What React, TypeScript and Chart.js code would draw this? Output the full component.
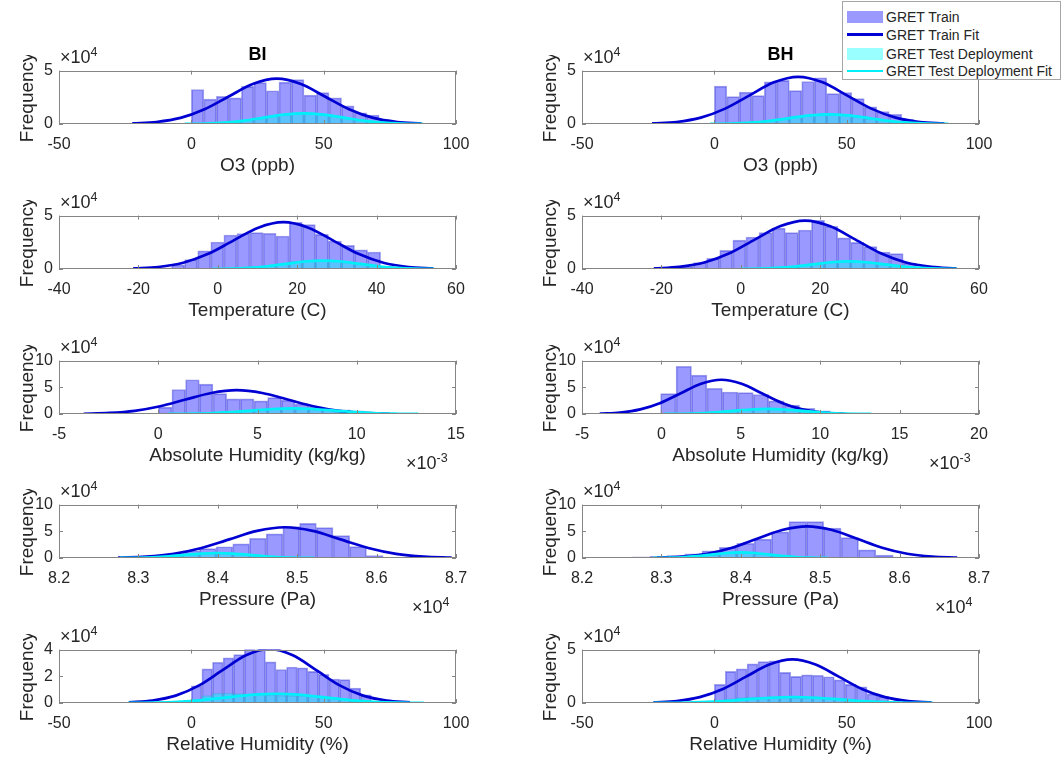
import React, { useEffect, useRef } from 'react';
import { Chart, registerables } from 'chart.js';
Chart.register(...registerables);

const FONT = "'Liberation Sans', Arial, Helvetica, sans-serif";
const TEXT = '#262626';

// ---------------- data ----------------
// O3 (ppb)
const o3Ticks = [-50, 0, 50, 100];
const o3TickLabels = ['-50', '0', '50', '100'];
const biO3BinStart = 0;
const biO3BinWidth = 4.73;
const biO3Train = [3.23, 2.33, 2.59, 2.44, 3.52, 3.87, 3.11, 3.92, 4.16, 2.7, 2.94, 2.44, 1.69, 1.05, 0.84, 0.35, 0.15, 0.05, 0.03, 0.02];
const biO3Test = [0.05, 0.08, 0.13, 0.22, 0.36, 0.55, 0.72, 0.88, 0.98, 1.0, 0.9, 0.72, 0.53, 0.36, 0.21, 0.12, 0.06, 0.03, 0.01, 0];
const biO3FitX = [-22.3, -13.2, -4.1, 5.0, 14.1, 23.2, 32.3, 41.4, 50.5, 59.6, 68.7, 77.8, 86.9];
const biO3FitY = [0.05, 0.19, 0.57, 1.38, 2.57, 3.74, 4.24, 3.74, 2.57, 1.38, 0.57, 0.19, 0.05];
const biO3TestFitX = [-2.5, 5, 12.5, 20, 27.5, 35, 42.5, 50, 57.5, 65, 72.5, 80, 87.5];
const biO3TestFitY = [0.01, 0.04, 0.13, 0.32, 0.6, 0.87, 0.99, 0.87, 0.6, 0.32, 0.13, 0.04, 0.01];

const bhO3BinStart = 0;
const bhO3BinWidth = 4.72;
const bhO3Train = [3.54, 2.57, 2.98, 2.66, 3.95, 4.09, 3.13, 3.98, 4.33, 2.84, 2.95, 2.37, 1.61, 1.17, 0.91, 0.44, 0.2, 0.08, 0.04, 0.02];
const bhO3Test = [0.04, 0.07, 0.12, 0.2, 0.32, 0.48, 0.64, 0.79, 0.89, 0.91, 0.84, 0.69, 0.51, 0.34, 0.2, 0.11, 0.05, 0.02, 0.01, 0];
const bhO3FitX = [-23.5, -14.3, -5.1, 4.1, 13.3, 22.5, 31.7, 40.9, 50.1, 59.3, 68.5, 77.7, 86.9];
const bhO3FitY = [0.05, 0.19, 0.6, 1.44, 2.68, 3.9, 4.42, 3.9, 2.68, 1.44, 0.6, 0.19, 0.05];
const bhO3TestFitX = [-1.6, 5.9, 13.4, 20.9, 28.4, 35.9, 43.4, 50.9, 58.4, 65.9, 73.4, 80.9, 88.4];
const bhO3TestFitY = [0.01, 0.04, 0.12, 0.3, 0.55, 0.8, 0.91, 0.8, 0.55, 0.3, 0.12, 0.04, 0.01];

// Temperature (C)
const tTicks = [-40, -20, 0, 20, 40, 60];
const tTickLabels = ['-40', '-20', '0', '20', '40', '60'];
const biTBinStart = -21.5;
const biTBinWidth = 3.29;
const biTTrain = [0.02, 0.05, 0.12, 0.38, 0.88, 1.7, 2.53, 3.18, 3.32, 3.41, 3.35, 3.09, 4.38, 4.15, 3.24, 2.62, 2.21, 1.79, 1.59, 0.25, 0.06, 0.02, 0.01];
const biTTest = [0, 0, 0, 0, 0, 0, 0.02, 0.06, 0.12, 0.2, 0.3, 0.45, 0.7, 0.78, 0.8, 0.76, 0.62, 0.46, 0.3, 0.17, 0.09, 0.04, 0.02];
const biTFitX = [-21.3, -15, -8.7, -2.4, 3.9, 10.2, 16.5, 22.8, 29.1, 35.4, 41.7, 48, 54.3];
const biTFitY = [0.05, 0.19, 0.59, 1.42, 2.66, 3.87, 4.38, 3.87, 2.66, 1.42, 0.59, 0.19, 0.05];
const biTTestFitX = [-1.4, 3.25, 7.9, 12.55, 17.2, 21.85, 26.5, 31.15, 35.8, 40.45, 45.1, 49.75, 54.4];
const biTTestFitY = [0.01, 0.03, 0.11, 0.26, 0.48, 0.7, 0.79, 0.7, 0.48, 0.26, 0.11, 0.03, 0.01];

const bhTBinStart = -25.1;
const bhTBinWidth = 3.3;
const bhTTrain = [0.02, 0.05, 0.12, 0.26, 0.59, 1.0, 1.74, 2.71, 3.0, 3.41, 3.82, 3.41, 3.65, 4.56, 4.0, 2.91, 2.5, 2.09, 1.59, 1.44, 0.56, 0.15, 0.05, 0.02];
const bhTTest = [0, 0, 0, 0, 0, 0, 0, 0.01, 0.02, 0.05, 0.11, 0.2, 0.34, 0.55, 0.66, 0.7, 0.69, 0.6, 0.45, 0.3, 0.17, 0.09, 0.04, 0.02];
const bhTFitX = [-21.9, -15.55, -9.2, -2.85, 3.5, 9.85, 16.2, 22.55, 28.9, 35.25, 41.6, 47.95, 54.3];
const bhTFitY = [0.05, 0.2, 0.61, 1.47, 2.75, 4.0, 4.53, 4.0, 2.75, 1.47, 0.61, 0.2, 0.05];
const bhTTestFitX = [-0.1, 4.45, 9, 13.55, 18.1, 22.65, 27.2, 31.75, 36.3, 40.85, 45.4, 49.95, 54.5];
const bhTTestFitY = [0.01, 0.03, 0.1, 0.23, 0.43, 0.63, 0.71, 0.63, 0.43, 0.23, 0.1, 0.03, 0.01];

// Absolute Humidity (kg/kg) x1e-3
const biAHTicks = [-5, 0, 5, 10, 15];
const biAHTickLabels = ['-5', '0', '5', '10', '15'];
const bhAHTicks = [-5, 0, 5, 10, 15, 20];
const bhAHTickLabels = ['-5', '0', '5', '10', '15', '20'];
const biAHBinStart = 0;
const biAHBinWidth = 0.689;
const biAHTrain = [1.29, 4.59, 6.41, 5.59, 3.82, 2.82, 2.82, 2.47, 3.06, 2.59, 1.88, 1.29, 0.88, 0.76, 0.59, 0.35, 0.24, 0.12, 0.1, 0.08, 0.05];
const biAHTest = [0, 0.02, 0.05, 0.12, 0.22, 0.38, 0.58, 0.8, 0.96, 1.05, 1.04, 0.92, 0.73, 0.52, 0.33, 0.19, 0.1, 0.05, 0.02, 0.01, 0];
const biAHFitX = [-3.76, -2.47, -1.19, 0.1, 1.38, 2.67, 3.95, 5.24, 6.52, 7.81, 9.09, 10.38, 11.66];
const biAHFitY = [0.05, 0.2, 0.6, 1.45, 2.71, 3.94, 4.47, 3.94, 2.71, 1.45, 0.6, 0.2, 0.05];
const biAHTestFitX = [0.5, 1.55, 2.6, 3.65, 4.7, 5.75, 6.8, 7.85, 8.9, 9.95, 11, 12.05, 13.1];
const biAHTestFitY = [0.01, 0.05, 0.14, 0.34, 0.64, 0.94, 1.06, 0.94, 0.64, 0.34, 0.14, 0.05, 0.01];

const bhAHBinStart = -0.05;
const bhAHBinWidth = 0.972;
const bhAHTrain = [3.82, 8.94, 7.29, 4.82, 4.12, 4.0, 3.65, 2.47, 1.65, 1.06, 0.59, 0.29, 0.15, 0.1, 0.08, 0.05, 0.04, 0.03, 0.03, 0.02];
const bhAHTest = [0.02, 0.05, 0.13, 0.29, 0.52, 0.77, 0.93, 0.92, 0.74, 0.49, 0.27, 0.12, 0.04, 0.01, 0, 0, 0, 0, 0, 0];
const bhAHFitX = [-3.88, -2.6, -1.33, -0.06, 1.22, 2.5, 3.77, 5.05, 6.32, 7.6, 8.87, 10.15, 11.42];
const bhAHFitY = [0.07, 0.28, 0.87, 2.08, 3.89, 5.66, 6.41, 5.66, 3.89, 2.08, 0.87, 0.28, 0.07];
const bhAHTestFitX = [0.19, 1.28, 2.36, 3.45, 4.53, 5.62, 6.7, 7.79, 8.87, 9.96, 11.04, 12.13, 13.21];
const bhAHTestFitY = [0.01, 0.04, 0.13, 0.31, 0.58, 0.84, 0.95, 0.84, 0.58, 0.31, 0.13, 0.04, 0.01];

// Pressure (Pa) x1e4
const pTicks = [8.2, 8.3, 8.4, 8.5, 8.6, 8.7];
const pTickLabels = ['8.2', '8.3', '8.4', '8.5', '8.6', '8.7'];
const biPBinStart = 8.2295;
const biPBinWidth = 0.02104;
const biPTrain = [0.05, 0.08, 0.15, 0.3, 0.5, 0.8, 1.35, 1.76, 2.1, 2.65, 3.7, 4.53, 5.88, 6.47, 5.7, 4.18, 2.12, 0.47, 0.1];
const biPTest = [0, 0, 0.02, 0.06, 0.17, 0.39, 0.68, 0.9, 0.92, 0.71, 0.43, 0.19, 0.07, 0.02, 0, 0, 0, 0, 0];
const biPFitX = [8.2745, 8.3095, 8.3445, 8.3795, 8.4145, 8.4495, 8.4845, 8.5195, 8.5545, 8.5895, 8.6245, 8.6595, 8.6945];
const biPFitY = [0.06, 0.25, 0.78, 1.87, 3.49, 5.08, 5.76, 5.08, 3.49, 1.87, 0.78, 0.25, 0.06];
const biPTestFitX = [8.2769, 8.2973, 8.3176, 8.338, 8.3583, 8.3787, 8.399, 8.4194, 8.4397, 8.4601, 8.4804, 8.5008, 8.5211];
const biPTestFitY = [0.01, 0.04, 0.13, 0.31, 0.57, 0.83, 0.94, 0.83, 0.57, 0.31, 0.13, 0.04, 0.01];

const bhPBinStart = 8.2197;
const bhPBinWidth = 0.0219;
const bhPTrain = [0.05, 0.08, 0.2, 0.3, 0.45, 0.76, 1.35, 2.0, 2.76, 3.53, 4.88, 6.82, 6.82, 5.59, 3.82, 1.53, 0.53, 0.15];
const bhPTest = [0, 0, 0, 0.02, 0.09, 0.29, 0.63, 0.97, 1.04, 0.79, 0.41, 0.16, 0.04, 0.01, 0, 0, 0, 0];
const bhPFitX = [8.2945, 8.326, 8.3575, 8.389, 8.4205, 8.452, 8.4835, 8.515, 8.5465, 8.578, 8.6095, 8.641, 8.6725];
const bhPFitY = [0.07, 0.26, 0.8, 1.93, 3.6, 5.24, 5.94, 5.24, 3.6, 1.93, 0.8, 0.26, 0.07];
const bhPTestFitX = [8.2895, 8.3079, 8.3262, 8.3446, 8.3629, 8.3813, 8.3996, 8.418, 8.4363, 8.4547, 8.473, 8.4914, 8.5097];
const bhPTestFitY = [0.01, 0.05, 0.14, 0.34, 0.64, 0.94, 1.06, 0.94, 0.64, 0.34, 0.14, 0.05, 0.01];

// Relative Humidity (%)
const biRHBinStart = 0;
const biRHBinWidth = 4.0;
const biRHTrain = [1.28, 2.56, 3.05, 3.38, 3.62, 4.05, 4.0, 3.08, 2.51, 2.7, 2.63, 2.37, 2.15, 1.8, 1.75, 1.11, 0.62];
const biRHTest = [0.3, 0.55, 0.72, 0.74, 0.7, 0.66, 0.64, 0.6, 0.56, 0.55, 0.54, 0.5, 0.45, 0.38, 0.3, 0.2, 0.1];
const biRHFitX = [-23.6, -14.75, -5.9, 2.95, 11.8, 20.65, 29.5, 38.35, 47.2, 56.05, 64.9, 73.75, 82.6];
const biRHFitY = [0.04, 0.18, 0.55, 1.32, 2.46, 3.57, 4.05, 3.57, 2.46, 1.32, 0.55, 0.18, 0.04];
const biRHTestFitX = [-23.8, -14.5, -5.2, 4.1, 13.4, 22.7, 32, 41.3, 50.6, 59.9, 69.2, 78.5, 87.8];
const biRHTestFitY = [0.01, 0.03, 0.09, 0.22, 0.42, 0.61, 0.69, 0.61, 0.42, 0.22, 0.09, 0.03, 0.01];

const bhRHBinStart = 0;
const bhRHBinWidth = 4.12;
const bhRHTrain = [1.75, 2.96, 3.2, 3.67, 3.88, 3.96, 2.87, 2.49, 2.63, 2.6, 2.46, 2.16, 1.75, 1.51, 0.86, 0.59, 0.18];
const bhRHTest = [0.25, 0.4, 0.5, 0.55, 0.56, 0.55, 0.53, 0.5, 0.48, 0.46, 0.42, 0.38, 0.32, 0.25, 0.18, 0.1, 0.05];
const bhRHFitX = [-23, -14.25, -5.5, 3.25, 12, 20.75, 29.5, 38.25, 47, 55.75, 64.5, 73.25, 82];
const bhRHFitY = [0.05, 0.18, 0.55, 1.32, 2.47, 3.6, 4.08, 3.6, 2.47, 1.32, 0.55, 0.18, 0.05];
const bhRHTestFitX = [-23, -14.2, -5.4, 3.4, 12.2, 21, 29.8, 38.6, 47.4, 56.2, 65, 73.8, 82.6];
const bhRHTestFitY = [0.01, 0.02, 0.08, 0.18, 0.34, 0.49, 0.56, 0.49, 0.34, 0.18, 0.08, 0.02, 0.01];

const yTicks5 = [0, 5];
const yTicks10 = [0, 5, 10];
const yTicks4 = [0, 2, 4];

const legendLabels = ['GRET Train', 'GRET Train Fit', 'GRET Test Deployment', 'GRET Test Deployment Fit'];

// ---------------- layout ----------------
const COL_L = [59, 582];
const ROW_T = [67, 212, 357, 501, 646];
const AX_W = 397;
const AX_H = 57;
const Y_AXIS_W = 55;
const X_AXIS_H = 56;
const PAD_T = 12;
const PAD_R = 32;
const LABEL_SIZE = 19;
const TICK_SIZE = 16;

const TRAIN_FILL = 'rgba(0,0,255,0.4)';
const TRAIN_EDGE = 'rgba(30,30,200,0.4)';
const TEST_FILL = 'rgba(0,255,255,0.4)';
const TEST_EDGE = 'rgba(0,180,200,0.3)';
const TRAIN_LINE = 'rgb(0,0,210)';
const TEST_LINE = 'rgb(0,240,250)';

type PanelCfg = {
  col: number; row: number; title?: string; xLabel: string;
  xMin: number; xMax: number; xTicks: number[]; xTickLabels: string[];
  yMax: number; yTicks: number[];
  binStart: number; binWidth: number; train: number[]; test: number[];
  fitX: number[]; fitY: number[]; tFitX: number[]; tFitY: number[];
  exp?: string;
};

const panels: PanelCfg[] = [
  { col: 0, row: 0, title: 'BI', xLabel: 'O3 (ppb)', xMin: -50, xMax: 100, xTicks: o3Ticks, xTickLabels: o3TickLabels, yMax: 5, yTicks: yTicks5,
    binStart: biO3BinStart, binWidth: biO3BinWidth, train: biO3Train, test: biO3Test, fitX: biO3FitX, fitY: biO3FitY, tFitX: biO3TestFitX, tFitY: biO3TestFitY },
  { col: 1, row: 0, title: 'BH', xLabel: 'O3 (ppb)', xMin: -50, xMax: 100, xTicks: o3Ticks, xTickLabels: o3TickLabels, yMax: 5, yTicks: yTicks5,
    binStart: bhO3BinStart, binWidth: bhO3BinWidth, train: bhO3Train, test: bhO3Test, fitX: bhO3FitX, fitY: bhO3FitY, tFitX: bhO3TestFitX, tFitY: bhO3TestFitY },
  { col: 0, row: 1, xLabel: 'Temperature (C)', xMin: -40, xMax: 60, xTicks: tTicks, xTickLabels: tTickLabels, yMax: 5, yTicks: yTicks5,
    binStart: biTBinStart, binWidth: biTBinWidth, train: biTTrain, test: biTTest, fitX: biTFitX, fitY: biTFitY, tFitX: biTTestFitX, tFitY: biTTestFitY },
  { col: 1, row: 1, xLabel: 'Temperature (C)', xMin: -40, xMax: 60, xTicks: tTicks, xTickLabels: tTickLabels, yMax: 5, yTicks: yTicks5,
    binStart: bhTBinStart, binWidth: bhTBinWidth, train: bhTTrain, test: bhTTest, fitX: bhTFitX, fitY: bhTFitY, tFitX: bhTTestFitX, tFitY: bhTTestFitY },
  { col: 0, row: 2, xLabel: 'Absolute Humidity (kg/kg)', xMin: -5, xMax: 15, xTicks: biAHTicks, xTickLabels: biAHTickLabels, yMax: 10, yTicks: yTicks10,
    binStart: biAHBinStart, binWidth: biAHBinWidth, train: biAHTrain, test: biAHTest, fitX: biAHFitX, fitY: biAHFitY, tFitX: biAHTestFitX, tFitY: biAHTestFitY, exp: '-3' },
  { col: 1, row: 2, xLabel: 'Absolute Humidity (kg/kg)', xMin: -5, xMax: 20, xTicks: bhAHTicks, xTickLabels: bhAHTickLabels, yMax: 10, yTicks: yTicks10,
    binStart: bhAHBinStart, binWidth: bhAHBinWidth, train: bhAHTrain, test: bhAHTest, fitX: bhAHFitX, fitY: bhAHFitY, tFitX: bhAHTestFitX, tFitY: bhAHTestFitY, exp: '-3' },
  { col: 0, row: 3, xLabel: 'Pressure (Pa)', xMin: 8.2, xMax: 8.7, xTicks: pTicks, xTickLabels: pTickLabels, yMax: 10, yTicks: yTicks10,
    binStart: biPBinStart, binWidth: biPBinWidth, train: biPTrain, test: biPTest, fitX: biPFitX, fitY: biPFitY, tFitX: biPTestFitX, tFitY: biPTestFitY, exp: '4' },
  { col: 1, row: 3, xLabel: 'Pressure (Pa)', xMin: 8.2, xMax: 8.7, xTicks: pTicks, xTickLabels: pTickLabels, yMax: 10, yTicks: yTicks10,
    binStart: bhPBinStart, binWidth: bhPBinWidth, train: bhPTrain, test: bhPTest, fitX: bhPFitX, fitY: bhPFitY, tFitX: bhPTestFitX, tFitY: bhPTestFitY, exp: '4' },
  { col: 0, row: 4, xLabel: 'Relative Humidity (%)', xMin: -50, xMax: 100, xTicks: o3Ticks, xTickLabels: o3TickLabels, yMax: 4, yTicks: yTicks4,
    binStart: biRHBinStart, binWidth: biRHBinWidth, train: biRHTrain, test: biRHTest, fitX: biRHFitX, fitY: biRHFitY, tFitX: biRHTestFitX, tFitY: biRHTestFitY },
  { col: 1, row: 4, xLabel: 'Relative Humidity (%)', xMin: -50, xMax: 100, xTicks: o3Ticks, xTickLabels: o3TickLabels, yMax: 5, yTicks: yTicks5,
    binStart: bhRHBinStart, binWidth: bhRHBinWidth, train: bhRHTrain, test: bhRHTest, fitX: bhRHFitX, fitY: bhRHFitY, tFitX: bhRHTestFitX, tFitY: bhRHTestFitY },
];

const framePlugin = {
  id: 'matlabFrame',
  afterDatasetsDraw(chart: any) {
    const { ctx, chartArea, scales } = chart;
    const { left, top, right, bottom } = chartArea;
    const xs = scales.x;
    const ys = scales.y;
    ctx.save();
    ctx.strokeStyle = '#858585';
    ctx.lineWidth = 1;
    ctx.beginPath();
    xs.ticks.forEach((t: any) => {
      const px = Math.round(xs.getPixelForValue(t.value)) + 0.5;
      ctx.moveTo(px, bottom);
      ctx.lineTo(px, bottom - 4);
      ctx.moveTo(px, top);
      ctx.lineTo(px, top + 4);
    });
    ys.ticks.forEach((t: any) => {
      const py = Math.round(ys.getPixelForValue(t.value)) + 0.5;
      ctx.moveTo(left, py);
      ctx.lineTo(left + 4, py);
      ctx.moveTo(right, py);
      ctx.lineTo(right - 4, py);
    });
    ctx.stroke();
    ctx.strokeRect(Math.round(left) + 0.5, Math.round(top) + 0.5, Math.round(right - left) - 1, Math.round(bottom - top) - 1);
    ctx.restore();
  },
};

function Panel({ cfg }: { cfg: PanelCfg }) {
  const ref = useRef<HTMLCanvasElement>(null);
  const w = Y_AXIS_W + AX_W + PAD_R;
  const h = PAD_T + AX_H + X_AXIS_H;
  const left = COL_L[cfg.col] - Y_AXIS_W;
  const top = ROW_T[cfg.row] - PAD_T;

  useEffect(() => {
    if (!ref.current) return;
    const centers = cfg.train.map((_, i) => cfg.binStart + (i + 0.5) * cfg.binWidth);
    const chart = new Chart(ref.current, {
      type: 'bar',
      data: {
        datasets: [
          {
            type: 'bar', label: legendLabels[0], order: 4, grouped: false,
            data: cfg.train.map((v, i) => ({ x: centers[i], y: v })),
            backgroundColor: TRAIN_FILL, borderColor: TRAIN_EDGE, borderWidth: 1,
            barPercentage: 1, categoryPercentage: 1,
          } as any,
          {
            type: 'bar', label: legendLabels[2], order: 3, grouped: false,
            data: cfg.test.map((v, i) => ({ x: centers[i], y: v })),
            backgroundColor: TEST_FILL, borderColor: TEST_EDGE, borderWidth: 1,
            barPercentage: 1, categoryPercentage: 1,
          } as any,
          {
            type: 'line', label: legendLabels[1], order: 2,
            data: cfg.fitX.map((x, i) => ({ x, y: cfg.fitY[i] })),
            borderColor: TRAIN_LINE, borderWidth: 2.7, pointRadius: 0, fill: false,
            cubicInterpolationMode: 'monotone',
          } as any,
          {
            type: 'line', label: legendLabels[3], order: 1,
            data: cfg.tFitX.map((x, i) => ({ x, y: cfg.tFitY[i] })),
            borderColor: TEST_LINE, borderWidth: 2.7, pointRadius: 0, fill: false,
            cubicInterpolationMode: 'monotone',
          } as any,
        ],
      },
      options: {
        animation: false,
        responsive: false,
        devicePixelRatio: 1,
        events: [],
        layout: { padding: { top: PAD_T, right: PAD_R, left: 0, bottom: 0 } },
        plugins: { legend: { display: false }, tooltip: { enabled: false }, title: { display: false } },
        scales: {
          x: {
            type: 'linear', min: cfg.xMin, max: cfg.xMax, offset: false,
            grid: { display: false, drawTicks: false, tickLength: 0 }, border: { display: false },
            ticks: {
              color: TEXT, font: { family: FONT, size: TICK_SIZE }, padding: 11, maxRotation: 0, autoSkip: false,
              callback: (_v: any, i: number) => cfg.xTickLabels[i],
            },
            title: { display: true, text: cfg.xLabel, color: TEXT, font: { family: FONT, size: LABEL_SIZE }, padding: { top: 0, bottom: 3 } },
            afterBuildTicks: (s: any) => { s.ticks = cfg.xTicks.map((v) => ({ value: v })); },
            afterFit: (s: any) => { s.height = X_AXIS_H; },
          },
          y: {
            type: 'linear', min: 0, max: cfg.yMax,
            grid: { display: false, drawTicks: false, tickLength: 0 }, border: { display: false },
            ticks: { color: TEXT, font: { family: FONT, size: TICK_SIZE }, padding: 6, callback: (v: any) => String(v) },
            title: { display: true, text: 'Frequency', color: TEXT, font: { family: FONT, size: LABEL_SIZE }, padding: { top: 12, bottom: 0 } },
            afterBuildTicks: (s: any) => { s.ticks = cfg.yTicks.map((v) => ({ value: v })); },
            afterFit: (s: any) => { s.width = Y_AXIS_W; },
          },
        },
      } as any,
      plugins: [framePlugin],
    });
    return () => chart.destroy();
  }, [cfg]);

  return (
    <canvas
      ref={ref}
      width={w}
      height={h}
      style={{ position: 'absolute', left, top, width: w, height: h }}
    />
  );
}

function Exp({ left, top, exp }: { left: number; top: number; exp: string }) {
  return (
    <div style={{ position: 'absolute', left, top, fontFamily: FONT, fontSize: 18, lineHeight: '18px', color: TEXT, whiteSpace: 'nowrap' }}>
      ×10<span style={{ position: 'relative', top: -7, fontSize: 12.5 }}>{exp}</span>
    </div>
  );
}

export default function App() {
  return (
    <div style={{ position: 'absolute', left: 0, top: 0, width: 1064, height: 761, background: '#fff', overflow: 'hidden' }}>
      {panels.map((p, i) => (
        <Panel key={i} cfg={p} />
      ))}
      {panels.map((p, i) => {
        const L = COL_L[p.col];
        const T = ROW_T[p.row];
        const R = L + AX_W;
        const B = T + AX_H;
        return (
          <React.Fragment key={'t' + i}>
            <Exp left={L + 1} top={T - 19} exp="4" />
            {p.exp && <Exp left={R - (p.exp === '-3' ? 50 : 44)} top={B + 40} exp={p.exp} />}
            {p.title && (
              <div style={{ position: 'absolute', left: L, width: AX_W, top: T - 22, textAlign: 'center', fontFamily: FONT, fontWeight: 'bold', fontSize: 18, lineHeight: '18px', color: '#000' }}>
                {p.title}
              </div>
            )}
          </React.Fragment>
        );
      })}
      <div style={{ position: 'absolute', left: 842, top: 1, width: 217, height: 77, border: '1px solid #a6a6a6', background: '#fff', fontFamily: FONT, fontSize: 14, color: TEXT }}>
        {legendLabels.map((lab, i) => {
          const cy = [15, 32.5, 51.5, 69][i];
          const isBar = i % 2 === 0;
          const col = i < 2 ? (isBar ? TRAIN_FILL : TRAIN_LINE) : (isBar ? TEST_FILL : TEST_LINE);
          return (
            <React.Fragment key={lab}>
              {isBar ? (
                <div style={{ position: 'absolute', left: 4, top: cy - 6, width: 36, height: 12, background: col }} />
              ) : (
                <div style={{ position: 'absolute', left: 4, top: cy - 1.5, width: 36, height: 2.5, background: col }} />
              )}
              <div style={{ position: 'absolute', left: 43, top: cy - 8, lineHeight: '16px', whiteSpace: 'nowrap' }}>{lab}</div>
            </React.Fragment>
          );
        })}
      </div>
    </div>
  );
}
